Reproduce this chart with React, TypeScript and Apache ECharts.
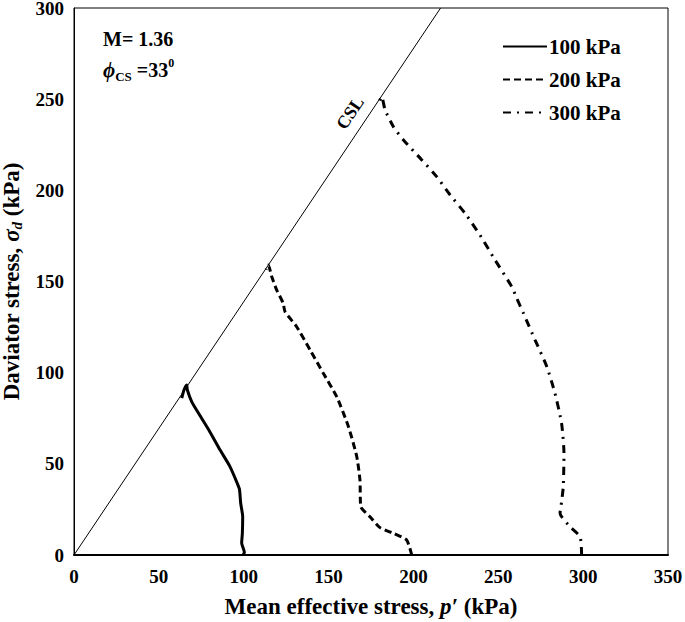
import React, { useEffect, useRef } from "react";
import * as echarts from "echarts";

// Stress paths: mean effective stress p' (kPa) and deviator stress q (kPa)
const p100 = [99.6, 100.4, 98.8, 99.2, 99.4, 98.2, 97.5, 95.9, 91.9, 86.0, 80.1, 74.2, 69.4, 66.8, 66.4, 64.8, 63.5];
const q100 = [0, 1.5, 6.6, 12.0, 21.0, 28.5, 36.0, 40.0, 48.5, 57.7, 67.5, 76.5, 84.0, 90.5, 93.3, 90.5, 86.0];

const p200 = [199.0, 196.0, 188.2, 180.3, 174.4, 169.0, 168.5, 166.6, 161.7, 154.8, 146.9, 139.1, 131.2, 124.3, 123.3, 119.4, 116.5, 114.5, 113.2];
const q200 = [0, 8.2, 11.9, 15.0, 21.0, 26.5, 41.0, 54.0, 70.4, 86.8, 99.7, 112.5, 125.2, 133.5, 138.0, 145.4, 152.7, 159.0, 156.5];

const p300 = [299.1, 298.2, 292.3, 286.4, 287.3, 288.3, 288.7, 287.3, 283.4, 278.6, 271.7, 264.8, 260.9, 257.9, 248.1, 239.2, 230.4, 221.6, 213.7, 204.9, 194.1, 188.2, 183.3, 181.3, 180.0];
const q300 = [0, 10.0, 15.5, 22.9, 29.2, 37.5, 55.8, 72.2, 88.7, 103.3, 117.9, 132.6, 140.8, 147.2, 161.8, 175.5, 187.4, 197.5, 207.5, 216.7, 227.6, 234.9, 244.1, 251.4, 249.0];

// Critical state line
const cslP = [0, 216];
const cslQ = [0, 300];

const seriesNames = ["100 kPa", "200 kPa", "300 kPa"];
const xTicks = { min: 0, max: 350, interval: 50 };
const yTicks = { min: 0, max: 300, interval: 50 };

const FONT = "'Liberation Serif', 'Times New Roman', serif";

const zip = (a: number[], b: number[]) => a.map((v, i) => [v, b[i]]);

export default function App() {
  const ref = useRef<HTMLDivElement>(null);
  useEffect(() => {
    if (!ref.current) return;
    const chart = echarts.init(ref.current, undefined, { renderer: "svg" });
    const base = { fontFamily: FONT, fontWeight: "bold" as const, color: "#000" };
    chart.setOption({
      animation: false,
      backgroundColor: "#fff",
      grid: {
        left: 74,
        right: 17,
        top: 8,
        bottom: 67,
        show: true,
        borderColor: "#000",
        borderWidth: 1,
        containLabel: false,
        outerBoundsMode: "none",
      },
      xAxis: {
        type: "value",
        ...xTicks,
        splitLine: { show: false },
        axisTick: { show: false },
        axisLine: { lineStyle: { color: "#000", width: 2 } },
        axisLabel: { ...base, fontSize: 19, margin: 12 },
        name: "{b|Mean effective stress, }{i|p′}{b| (kPa)}",
        nameLocation: "middle",
        nameGap: 40,
        nameTextStyle: {
          rich: {
            b: { ...base, fontSize: 23 },
            i: { ...base, fontSize: 23, fontStyle: "italic" },
          },
        },
      },
      yAxis: {
        type: "value",
        ...yTicks,
        splitLine: { show: false },
        axisTick: { show: false },
        axisLine: { lineStyle: { color: "#000", width: 1 } },
        axisLabel: { ...base, fontSize: 19, margin: 10 },
        name: "{b|Daviator stress, }{i|σ}{s|d}{b| (kPa)}",
        nameLocation: "middle",
        nameGap: 42,
        nameTextStyle: {
          rich: {
            b: { ...base, fontSize: 23, lineHeight: 26 },
            i: { ...base, fontSize: 23, fontStyle: "italic", lineHeight: 26 },
            s: { ...base, fontSize: 15, fontStyle: "italic", lineHeight: 15, verticalAlign: "bottom" },
          },
        },
      },
      legend: {
        data: seriesNames,
        orient: "vertical",
        left: 497,
        top: 31,
        itemWidth: 44,
        itemHeight: 12,
        itemGap: 12,
        itemStyle: { opacity: 0 },
        textStyle: { ...base, fontSize: 21, padding: [0, 0, 0, -3] },
      },
      series: [
        {
          name: "CSL",
          type: "line",
          data: zip(cslP, cslQ),
          symbol: "none",
          silent: true,
          lineStyle: { color: "#000", width: 1 },
        },
        {
          name: seriesNames[0],
          type: "line",
          data: zip(p100, q100),
          symbol: "none",
          smooth: 0.2,
          color: "#000",
          lineStyle: { color: "#000", width: 3, type: "solid" },
        },
        {
          name: seriesNames[1],
          type: "line",
          data: zip(p200, q200),
          symbol: "none",
          smooth: 0.2,
          color: "#000",
          lineStyle: { color: "#000", width: 3, type: [7, 4] },
        },
        {
          name: seriesNames[2],
          type: "line",
          data: zip(p300, q300),
          symbol: "none",
          smooth: 0.2,
          color: "#000",
          lineStyle: { color: "#000", width: 3, type: [8, 6, 2, 6] },
        },
      ],
      graphic: [
        {
          type: "text",
          left: 103,
          top: 29,
          style: { text: "M= 1.36", font: `bold 20px ${FONT}`, fill: "#000" },
        },
        {
          type: "text",
          left: 103,
          top: 57,
          style: {
            text: "{i|ϕ}{s|CS}{b| =33}{p|0}",
            fill: "#000",
            rich: {
              i: { ...base, fontSize: 21, fontStyle: "italic", lineHeight: 26 },
              s: { ...base, fontSize: 13, lineHeight: 14, verticalAlign: "bottom" },
              b: { ...base, fontSize: 20, lineHeight: 26 },
              p: { ...base, fontSize: 12, lineHeight: 14, verticalAlign: "top" },
            },
          },
        },
        {
          type: "text",
          x: 350,
          y: 113,
          rotation: (56 * Math.PI) / 180,
          style: {
            text: "CSL",
            font: `bold 18px ${FONT}`,
            fill: "#000",
            align: "center",
            verticalAlign: "middle",
          },
        },
      ],
    });
    return () => chart.dispose();
  }, []);
  return (
    <div
      ref={ref}
      style={{ position: "fixed", left: 0, top: 0, width: 685, height: 622 }}
    />
  );
}
